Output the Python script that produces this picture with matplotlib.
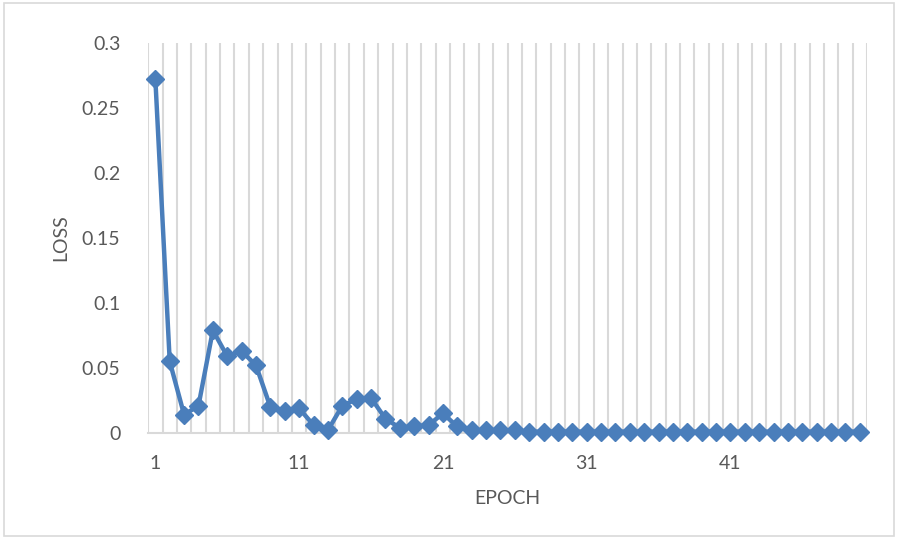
import matplotlib
matplotlib.use("Agg")
import matplotlib.pyplot as plt
from matplotlib.patches import Rectangle
import numpy as np

epochs = list(range(1, 51))
loss = [0.272, 0.055, 0.014, 0.021, 0.079, 0.059, 0.063, 0.052, 0.020, 0.017,
        0.019, 0.006, 0.002, 0.021, 0.026, 0.027, 0.011, 0.004, 0.005, 0.006,
        0.015, 0.005, 0.002, 0.002, 0.002, 0.002, 0.001, 0.001, 0.001, 0.001,
        0.001, 0.001, 0.001, 0.001, 0.001, 0.001, 0.001, 0.001, 0.001, 0.001,
        0.001, 0.001, 0.001, 0.001, 0.001, 0.001, 0.001, 0.001, 0.001, 0.001]
xtick_labels = ["1", "11", "21", "31", "41"]
ytick_values = [0, 0.05, 0.1, 0.15, 0.2, 0.25, 0.3]
ytick_labels = ["0", "0.05", "0.1", "0.15", "0.2", "0.25", "0.3"]

plt.rcParams['font.family'] = ['Lato', 'DejaVu Sans']
text_color = "#595959"
grid_color = "#d9d9d9"
line_color = "#4a7ebb"

fig = plt.figure(figsize=(8.98, 5.39), dpi=100)
fig.patches.append(Rectangle((0.004, 0.006), 0.992, 0.988, transform=fig.transFigure,
                             fill=False, edgecolor="#d9d9d9", linewidth=1.2))
ax = fig.add_axes([0.1650, 0.1967, 0.8005, 0.7235])

n = len(epochs)
ax.set_xlim(0.5, n + 0.5)
ax.set_ylim(0, 0.3)

# vertical gridlines at category boundaries
for b in np.arange(0.5, n + 1.0, 1.0):
    ax.axvline(b, color=grid_color, linewidth=1.5, zorder=1)

ax.plot(epochs, loss, color=line_color, linewidth=3.2, marker='D',
        markersize=9.5, markerfacecolor=line_color, markeredgecolor=line_color,
        zorder=3, clip_on=False)

for s in ['top', 'right']:
    ax.spines[s].set_visible(False)
ax.spines['left'].set_visible(False)
ax.spines['bottom'].set_color(grid_color)
ax.spines['bottom'].set_linewidth(1.5)

ax.set_yticks(ytick_values)
ax.set_yticklabels(ytick_labels)
tick_pos = [int(t) for t in xtick_labels]
ax.set_xticks(tick_pos)
ax.set_xticklabels(xtick_labels)
ax.tick_params(axis='both', length=0, labelsize=14, labelcolor=text_color)
ax.tick_params(axis='y', pad=20)
ax.tick_params(axis='x', pad=16)

ax.set_xlabel("EPOCH", fontsize=14, color=text_color, labelpad=13)
ax.set_ylabel("LOSS", fontsize=14, color=text_color, labelpad=9)

fig.savefig("out.png", dpi=100)
